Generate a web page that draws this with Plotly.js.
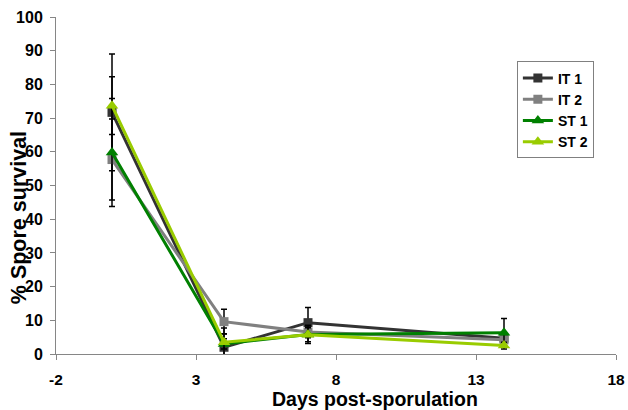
<!DOCTYPE html>
<html>
<head>
<meta charset="utf-8">
<script src="https://cdn.plot.ly/plotly-3.0.1.min.js"></script>
<style>html,body{margin:0;padding:0;background:#fff;}#chart{width:628px;height:410px;}</style>
</head>
<body>
<div id="chart"></div>
<script>
// Days post-sporulation
const days = [0, 4, 7, 14];
// Series values (% spore survival)
const it1 = [71.7, 2.0, 9.3, 4.7];
const it2 = [57.7, 9.6, 6.5, 4.2];
const st1 = [59.8, 3.0, 5.8, 6.3];
const st2 = [73.7, 3.5, 5.7, 2.5];
// Error bar sizes
const it1Err = [17.3, 4.0, 4.5, 1.0];
const it2Err = [12.0, 3.7, 1.5, 1.0];
const st1Err = [16.0, 1.5, 2.7, 4.2];
const st2Err = [8.6, 4.2, 2.1, 1.0];
const seriesNames = ['IT 1', 'IT 2', 'ST 1', 'ST 2'];
// Axis tick labels
const xTickVals = [-2, 3, 8, 13, 18];
const xTickText = ['-2', '3', '8', '13', '18'];

const colors = ['#333333', '#808080', '#008000', '#99cc00'];
const symbols = ['square', 'square', 'triangle-up', 'triangle-up'];
const sizes = [9, 9, 11, 11];
const ys = [it1, it2, st1, st2];
const errs = [it1Err, it2Err, st1Err, st2Err];

const traces = seriesNames.map((n, i) => ({
  type: 'scatter', mode: 'lines+markers', name: n,
  x: days, y: ys[i],
  line: {color: colors[i], width: 3},
  marker: {color: colors[i], symbol: symbols[i], size: sizes[i]},
  error_y: {type: 'data', array: errs[i], visible: true, color: '#000000', thickness: 1.5, width: 3},
  cliponaxis: false
}));

const layout = {
  width: 628, height: 410,
  margin: {l: 56, r: 12, t: 17, b: 56},
  paper_bgcolor: '#ffffff', plot_bgcolor: '#ffffff',
  font: {family: 'Liberation Sans, Arial, sans-serif', color: '#000000'},
  showlegend: true,
  legend: {
    x: 0.823, y: 0.868, xanchor: 'left', yanchor: 'top',
    bgcolor: '#ffffff', bordercolor: '#808080', borderwidth: 1,
    font: {size: 14, family: 'Liberation Sans, Arial, sans-serif', weight: 'bold'},
    itemwidth: 30, tracegroupgap: 0
  },
  xaxis: {
    range: [-2, 18], tickmode: 'array', tickvals: xTickVals, ticktext: xTickText,
    showgrid: false, zeroline: false,
    showline: true, linecolor: '#868686', linewidth: 1,
    ticks: 'outside', ticklen: 5, tickcolor: '#868686',
    tickfont: {size: 15.5, weight: 'bold'}, ticklabelstandoff: 6
  },
  yaxis: {
    range: [0, 100], tick0: 0, dtick: 10, showgrid: false, zeroline: false,
    showline: true, linecolor: '#868686', linewidth: 1,
    ticks: 'outside', ticklen: 5, tickcolor: '#868686',
    tickfont: {size: 16, weight: 'bold'}, ticklabelstandoff: 4
  },
  annotations: [
    {text: 'Days post-sporulation', xref: 'paper', yref: 'paper', showarrow: false,
     x: (375 - 56) / 560, y: -(399.5 - 354.5) / 337.5, xanchor: 'center', yanchor: 'middle',
     font: {size: 19.5, weight: 'bold'}},
    {text: '% Spore survival', xref: 'paper', yref: 'paper', showarrow: false, textangle: -90,
     x: -(56 - 18.5) / 560, y: (354.5 - 218) / 337.5, xanchor: 'center', yanchor: 'middle',
     font: {size: 21.5, weight: 'bold'}}
  ]
};

Plotly.newPlot('chart', traces, layout, {staticPlot: true, displayModeBar: false});
</script>
</body>
</html>
